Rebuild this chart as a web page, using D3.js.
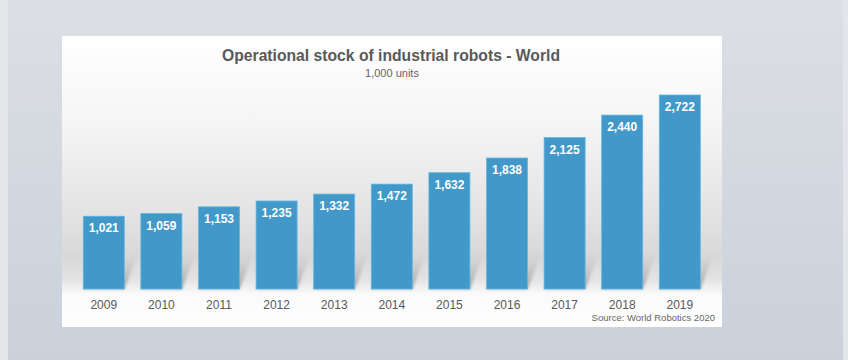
<!DOCTYPE html>
<html><head><meta charset="utf-8">
<script src="https://cdn.jsdelivr.net/npm/d3@7"></script>
<style>html,body{margin:0;padding:0;overflow:hidden;background:#d6dae1}</style>
</head><body>
<svg id="c" width="848" height="360"></svg>
<script>
const years = ["2009","2010","2011","2012","2013","2014","2015","2016","2017","2018","2019"];
const stock = [1021,1059,1153,1235,1332,1472,1632,1838,2125,2440,2722];
const title = "Operational stock of industrial robots - World";
const subtitle = "1,000 units";
const source = "Source: World Robotics 2020";

const svg = d3.select("#c");
const defs = svg.append("defs");
const bg = defs.append("linearGradient").attr("id","bg").attr("x1",0).attr("y1",0).attr("x2",0).attr("y2",1);
bg.append("stop").attr("offset","0%").attr("stop-color","#dcdfe4");
bg.append("stop").attr("offset","100%").attr("stop-color","#cad1db");
const pg = defs.append("linearGradient").attr("id","pg").attr("x1",0).attr("y1",0).attr("x2",0).attr("y2",1);
[[0,"#ffffff"],[0.3,"#f5f5f5"],[0.6,"#e4e4e4"],[0.76,"#d8d8d8"],[0.84,"#e4e4e4"],[0.885,"#fafafa"],[1,"#ffffff"]]
  .forEach(([o,c])=>pg.append("stop").attr("offset",o).attr("stop-color",c));
const sg = defs.append("linearGradient").attr("id","sg").attr("x1",0).attr("y1",1).attr("x2",0).attr("y2",0);
sg.append("stop").attr("offset","0%").attr("stop-color","#9a9a9a").attr("stop-opacity",0.95);
sg.append("stop").attr("offset","100%").attr("stop-color","#bdbdbd").attr("stop-opacity",0);
defs.append("filter").attr("id","blur").append("feGaussianBlur").attr("stdDeviation",1.5);

svg.append("rect").attr("width",848).attr("height",360).attr("fill","url(#bg)");
svg.append("rect").attr("x",0).attr("y",0).attr("width",8).attr("height",360).attr("fill","#e4e6ea");
svg.append("rect").attr("x",843).attr("y",0).attr("width",5).attr("height",360).attr("fill","#e2e5ea");

svg.append("rect").attr("x",62).attr("y",36).attr("width",660).attr("height",291).attr("fill","url(#pg)");

const x = d3.scaleBand().domain(years).range([66, 717.6]).paddingInner(0.288).paddingOuter(0.3);
const y = d3.scaleLinear().domain([0,3000]).range([289, 75.2]);

const data = years.map((yr,i)=>({yr, v: stock[i]}));

// shadows
svg.append("g").attr("filter","url(#blur)").selectAll("polygon").data(data).join("polygon")
  .attr("points", d=>{
    const xl = x(d.yr), xr = xl + x.bandwidth(), b = y(0), h = 36, dx = 14;
    return [[xl,b],[xr,b],[xr+dx,b-h],[xl+dx,b-h]].map(p=>p.join(",")).join(" ");
  })
  .attr("fill","url(#sg)");

svg.append("g").selectAll("rect").data(data).join("rect")
  .attr("x", d=>x(d.yr)).attr("y", d=>y(d.v))
  .attr("width", x.bandwidth()).attr("height", d=>y(0)-y(d.v))
  .attr("fill","#4198c9").attr("stroke","#62b6e2").attr("stroke-width",0.8);

svg.append("g").selectAll("text").data(data).join("text")
  .attr("x", d=>x(d.yr)+x.bandwidth()/2).attr("y", d=>y(d.v)+16)
  .attr("text-anchor","middle").attr("fill","#ffffff")
  .attr("font-family","Liberation Sans, Arial, sans-serif").attr("font-weight","bold").attr("font-size",12)
  .text(d=>d3.format(",")(d.v));

const xa = svg.append("g").attr("transform",`translate(0,${y(0)})`).call(d3.axisBottom(x).tickSize(0).tickPadding(11));
xa.select(".domain").remove();
xa.selectAll("text").attr("fill","#595959").attr("font-family","Liberation Sans, Arial, sans-serif").attr("font-size",12);

svg.append("text").attr("x",391).attr("y",61).attr("text-anchor","middle")
  .attr("font-family","Liberation Sans, Arial, sans-serif").attr("font-weight","bold").attr("font-size",16)
  .attr("fill","#595959").attr("textLength",338).attr("lengthAdjust","spacingAndGlyphs").text(title);
svg.append("text").attr("x",392).attr("y",77).attr("text-anchor","middle")
  .attr("font-family","Liberation Sans, Arial, sans-serif").attr("font-size",11)
  .attr("fill","#666666").text(subtitle);
svg.append("text").attr("x",715).attr("y",321).attr("text-anchor","end")
  .attr("font-family","Liberation Sans, Arial, sans-serif").attr("font-size",9.5)
  .attr("fill","#666666").text(source);
</script>
</body></html>
